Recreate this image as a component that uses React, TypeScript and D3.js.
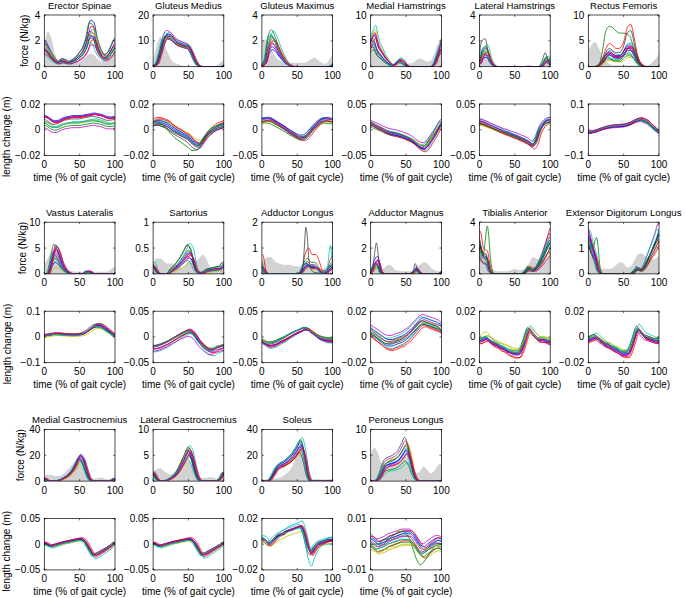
import React from "react";
import * as d3 from "d3";

const muscles = [
  "Erector Spinae", "Gluteus Medius", "Gluteus Maximus", "Medial Hamstrings", "Lateral Hamstrings", "Rectus Femoris",
  "Vastus Lateralis", "Sartorius", "Adductor Longus", "Adductor Magnus", "Tibialis Anterior", "Extensor Digitorum Longus",
  "Medial Gastrocnemius", "Lateral Gastrocnemius", "Soleus", "Peroneus Longus",
];
const groupSizes = [6, 6, 4];
const xPct = [0, 5, 10, 15, 20, 25, 30, 35, 40, 45, 50, 55, 60, 65, 70, 75, 80, 85, 90, 95, 100];
const xTicks = [0, 50, 100];
const forceMax = [4, 20, 4, 10, 4, 10, 10, 1, 2, 4, 4, 2, 40, 10, 40, 10];
const lengthRange = [0.02, 0.02, 0.05, 0.05, 0.05, 0.1, 0.1, 0.05, 0.05, 0.02, 0.02, 0.02, 0.05, 0.05, 0.02, 0.01];

// mean muscle force (N/kg) at xPct
const forceMean = [
  [1.5, 1.2, 0.8, 0.5, 0.3, 0.45, 0.4, 0.3, 0.4, 0.55, 0.8, 1.1, 1.7, 2.6, 2.5, 1.6, 1.0, 0.7, 0.8, 1.2, 1.6],
  [0.3, 1.0, 5, 10, 12, 11.5, 10, 9, 8.5, 8, 7.5, 5, 2, 0.3, 0, 0, 0, 0, 0, 0, 0.3],
  [0.1, 0.4, 1.8, 2.2, 1.8, 1.2, 0.7, 0.3, 0.1, 0, 0, 0, 0, 0, 0, 0, 0, 0, 0, 0, 0.1],
  [4.5, 5.5, 3.5, 2.5, 1.5, 0.8, 0.3, 0.5, 1.2, 1.0, 0.3, 0, 0, 0, 0, 0, 0, 0, 0.5, 2.5, 4.5],
  [0.3, 1.1, 1.2, 0.5, 0.1, 0, 0, 0, 0, 0, 0, 0, 0, 0, 0, 0, 0, 0, 0.2, 0.6, 0.2],
  [0, 0, 0, 0.3, 1, 2, 2.5, 2, 1.8, 1.8, 2.5, 3.5, 3.5, 2.5, 1, 0.3, 0, 0, 0, 0, 0],
  [0, 0, 2.5, 5, 4, 2, 0.8, 0.2, 0, 0, 0, 0, 0.5, 0.4, 0, 0, 0, 0, 0, 0, 0],
  [0.15, 0.05, 0, 0, 0, 0.05, 0.1, 0.15, 0.22, 0.3, 0.38, 0.32, 0.1, 0.02, 0.02, 0.05, 0.07, 0.08, 0.09, 0.1, 0.15],
  [0.3, 0.05, 0, 0, 0, 0, 0, 0, 0, 0, 0, 0.05, 0.3, 0.4, 0.3, 0.3, 0.2, 0.05, 0.05, 0.2, 0.3],
  [0.1, 0.6, 0.8, 0.1, 0, 0, 0, 0, 0, 0, 0, 0, 0.1, 0.3, 0.05, 0, 0, 0, 0, 0, 0.1],
  [2.2, 1.3, 1.2, 0.2, 0, 0, 0, 0, 0, 0, 0, 0, 0, 0.2, 0.4, 0.3, 0.4, 0.8, 1.3, 1.9, 2.4],
  [1.4, 1.0, 0.6, 0.1, 0, 0, 0, 0, 0, 0, 0, 0, 0, 0.1, 0.2, 0.15, 0.3, 0.6, 0.9, 1.2, 1.5],
  [2, 0.5, 0, 0, 0.5, 1.5, 3, 5, 8, 13, 18, 15, 7, 1, 0, 0, 0, 0, 0, 0.5, 2],
  [1.5, 0.5, 0, 0, 0.2, 0.5, 1, 1.8, 3, 4.3, 5.5, 4.5, 2, 0.3, 0, 0, 0, 0, 0, 0.5, 1.5],
  [0, 0, 0.5, 4, 9, 12, 13, 15, 17, 20, 24, 28, 20, 5, 0, 0, 0, 0, 0, 0, 0],
  [0, 0, 0.3, 1.5, 3, 3.5, 3.7, 4, 4.5, 5.5, 6.5, 5, 2, 0.3, 0, 0, 0, 0, 0, 0, 0],
];

// grey shaded EMG envelope (in force units of each panel)
const emgShade = [
  [1.5, 2.7, 2.2, 1.0, 0.4, 0.3, 0.3, 0.2, 0.2, 0.3, 0.4, 0.6, 0.8, 1.0, 0.9, 0.6, 0.4, 0.5, 0.9, 1.3, 1.2],
  [2, 8, 11.5, 9, 6, 3, 1.5, 1, 0.5, 0.3, 0.2, 0.2, 0.2, 0.2, 0.2, 0.2, 0.2, 0.3, 0.5, 1.5, 3],
  [2.0, 2.1, 1.8, 1.2, 0.7, 0.5, 0.4, 0.3, 0.3, 0.3, 0.3, 0.3, 0.3, 0.4, 0.6, 0.7, 0.5, 0.3, 0.2, 0.5, 1.0],
  [4.5, 4, 3, 2, 1.2, 0.8, 0.6, 0.5, 0.5, 0.5, 0.5, 0.6, 0.8, 1.3, 1.6, 1.3, 1.0, 1.2, 2.5, 4.5, 5.5],
  [1.3, 1.3, 0.8, 0.3, 0.1, 0.05, 0.05, 0.05, 0.05, 0.05, 0.05, 0.05, 0.05, 0.1, 0.15, 0.1, 0.05, 0.05, 0.1, 0.3, 0.4],
  [3, 4.3, 4.8, 3.5, 2, 1, 0.5, 0.3, 0.3, 0.3, 0.3, 0.3, 0.3, 0.3, 0.3, 0.3, 0.3, 0.3, 0.8, 1.5, 2.5],
  [2, 3, 4.5, 4.5, 3, 1.8, 1, 0.6, 0.5, 0.4, 0.4, 0.4, 0.4, 0.4, 0.4, 0.4, 0.4, 0.4, 0.5, 1, 1.5],
  [0.2, 0.3, 0.3, 0.25, 0.2, 0.2, 0.2, 0.15, 0.12, 0.15, 0.25, 0.28, 0.25, 0.3, 0.37, 0.3, 0.15, 0.08, 0.06, 0.05, 0.1],
  [0.5, 0.6, 0.65, 0.6, 0.45, 0.4, 0.35, 0.35, 0.35, 0.3, 0.3, 0.3, 0.4, 0.4, 0.3, 0.25, 0.2, 0.2, 0.25, 0.3, 0.35],
  [0.5, 0.6, 0.5, 0.4, 0.5, 0.7, 0.6, 0.3, 0.25, 0.2, 0.2, 0.2, 0.3, 0.6, 0.7, 0.9, 0.8, 0.5, 0.3, 0.2, 0.2],
  [2.5, 1.5, 0.8, 0.4, 0.3, 0.2, 0.2, 0.2, 0.2, 0.3, 0.4, 0.3, 0.3, 0.5, 0.8, 1.3, 1.2, 1.1, 1.0, 1.2, 1.5],
  [1.5, 1.0, 0.6, 0.3, 0.2, 0.2, 0.2, 0.25, 0.35, 0.45, 0.4, 0.25, 0.3, 0.5, 0.75, 0.8, 0.7, 0.6, 0.55, 0.6, 0.7],
  [4, 5, 5, 4, 4, 5, 7, 10, 13, 16, 17, 12, 6, 3, 2, 2, 3, 2, 1.5, 2, 3],
  [1.8, 2.3, 2.5, 2, 1.5, 1.3, 1.5, 2, 2.8, 3.8, 4, 3, 1.5, 0.8, 0.6, 0.6, 0.8, 0.7, 0.5, 0.5, 0.8],
  [1, 1.5, 1.5, 2, 2, 2.5, 4, 6, 9, 14, 22, 23, 12, 4, 2, 1.5, 1.5, 1.5, 1.2, 1.5, 2],
  [5, 6.5, 5.5, 3.5, 3, 3.3, 3.5, 3.7, 4, 5, 5.5, 5, 3, 1.5, 2, 2.8, 2.2, 1.5, 2, 3, 3.5],
];

// mean length change (m) at xPct
const lengthMean = [
  [0.008, 0.007, 0.005, 0.004, 0.0045, 0.006, 0.007, 0.0075, 0.008, 0.008, 0.008, 0.0085, 0.009, 0.0095, 0.010, 0.0095, 0.009, 0.008, 0.007, 0.007, 0.0075],
  [0.005, 0.006, 0.006, 0.005, 0.004, 0.002, 0.0, -0.0015, -0.003, -0.0045, -0.006, -0.009, -0.011, -0.012, -0.009, -0.005, -0.002, 0.0, 0.002, 0.003, 0.004],
  [0.018, 0.02, 0.02, 0.017, 0.013, 0.009, 0.005, 0.0, -0.005, -0.009, -0.013, -0.016, -0.015, -0.01, -0.002, 0.006, 0.013, 0.018, 0.02, 0.019, 0.018],
  [0.012, 0.008, 0.005, 0.002, -0.002, -0.005, -0.007, -0.008, -0.01, -0.012, -0.015, -0.018, -0.022, -0.028, -0.033, -0.035, -0.03, -0.02, -0.01, 0.002, 0.012],
  [0.015, 0.013, 0.010, 0.007, 0.004, 0.001, -0.002, -0.005, -0.007, -0.01, -0.012, -0.015, -0.018, -0.021, -0.025, -0.03, -0.022, -0.002, 0.01, 0.016, 0.018],
  [-0.01, -0.008, -0.005, 0.0, 0.005, 0.009, 0.012, 0.014, 0.015, 0.016, 0.017, 0.02, 0.025, 0.032, 0.038, 0.04, 0.035, 0.028, 0.015, 0.003, -0.008],
  [0.005, 0.008, 0.01, 0.012, 0.012, 0.011, 0.01, 0.009, 0.008, 0.009, 0.01, 0.013, 0.02, 0.03, 0.04, 0.045, 0.043, 0.035, 0.025, 0.015, 0.005],
  [-0.02, -0.019, -0.017, -0.014, -0.011, -0.007, -0.003, 0.001, 0.005, 0.008, 0.011, 0.009, 0.002, -0.008, -0.016, -0.022, -0.026, -0.026, -0.022, -0.02, -0.018],
  [-0.008, -0.012, -0.015, -0.014, -0.012, -0.008, -0.005, -0.001, 0.003, 0.007, 0.01, 0.013, 0.016, 0.015, 0.01, 0.005, 0.0, -0.003, -0.005, -0.006, -0.006],
  [0.004, 0.002, 0.0, -0.002, -0.004, -0.005, -0.005, -0.004, -0.003, -0.002, 0.0, 0.002, 0.005, 0.008, 0.011, 0.012, 0.011, 0.01, 0.009, 0.008, 0.006],
  [-0.003, -0.002, -0.001, -0.003, -0.005, -0.006, -0.008, -0.009, -0.011, -0.012, -0.013, -0.013, -0.009, -0.001, 0.006, 0.003, 0.0, -0.002, -0.002, -0.003, -0.004],
  [-0.002, -0.001, 0.0, -0.002, -0.004, -0.006, -0.007, -0.009, -0.01, -0.012, -0.013, -0.013, -0.009, -0.001, 0.006, 0.003, 0.0, -0.001, -0.002, -0.003, -0.003],
  [0.002, -0.001, -0.004, -0.002, 0.0, 0.002, 0.004, 0.005, 0.007, 0.008, 0.01, 0.008, 0.0, -0.012, -0.022, -0.02, -0.016, -0.012, -0.008, -0.003, 0.002],
  [0.002, -0.001, -0.004, -0.002, 0.0, 0.002, 0.004, 0.005, 0.007, 0.008, 0.01, 0.008, 0.0, -0.012, -0.021, -0.019, -0.015, -0.011, -0.007, -0.003, 0.002],
  [0.004, 0.003, 0.0, 0.002, 0.005, 0.007, 0.008, 0.01, 0.011, 0.012, 0.013, 0.014, 0.008, -0.002, -0.007, -0.003, 0.0, 0.001, 0.002, 0.003, 0.003],
  [0.001, 0.0, -0.001, -0.0005, 0.0, 0.001, 0.0015, 0.002, 0.0025, 0.003, 0.003, 0.003, 0.002, 0.0, -0.002, -0.003, -0.002, -0.001, 0.0, 0.0005, 0.0],
];

// per-subject force amplitude (relative to mean), read from peak spread
const forceScale = [
  [1.38, 1.3, 1.2, 1.1, 1.05, 1.0, 0.95, 0.9, 0.85, 0.8, 0.72, 0.65],
  [1.0, 0.95, 1.05, 1.1, 1.17, 0.9, 1.0, 1.05, 0.92, 0.98, 1.08, 0.88],
  [0.7, 1.3, 1.0, 1.25, 0.85, 0.9, 1.1, 0.6, 1.05, 0.95, 1.15, 0.8],
  [0.8, 1.0, 1.2, 1.45, 0.9, 1.3, 0.7, 1.1, 0.6, 1.0, 0.85, 1.15],
  [1.2, 0.9, 1.1, 1.4, 0.8, 1.0, 1.8, 0.6, 1.3, 0.9, 1.05, 0.75],
  [1.2, 0.7, 1.0, 1.3, 1.1, 0.5, 1.0, 0.9, 0.6, 1.1, 0.8, 1.05],
  [0.45, 1.15, 1.0, 1.1, 0.9, 0.25, 0.8, 0.95, 0.6, 1.05, 0.75, 1.12],
  [1.1, 1.5, 1.0, 1.55, 0.9, 0.55, 1.45, 0.8, 1.2, 0.95, 0.7, 1.05],
  [0.8, 1.0, 2.5, 0.7, 1.2, 0.6, 1.0, 0.9, 1.5, 0.8, 1.1, 0.7],
  [1.7, 0.9, 1.2, 0.7, 1.0, 0.6, 1.0, 1.3, 0.8, 1.1, 0.9, 1.4],
  [1.1, 1.0, 1.5, 0.9, 1.3, 0.8, 0.7, 1.0, 1.2, 0.9, 1.05, 0.6],
  [1.0, 0.9, 1.1, 1.2, 1.3, 0.7, 0.85, 1.05, 0.8, 0.95, 1.15, 0.75],
  [1.05, 1.0, 1.1, 1.17, 0.95, 0.82, 1.0, 1.1, 0.9, 1.05, 0.95, 1.12],
  [1.05, 0.95, 1.15, 1.25, 1.0, 0.85, 1.1, 0.9, 1.2, 1.0, 0.82, 1.08],
  [1.1, 0.95, 0.9, 1.2, 1.05, 0.85, 0.8, 1.0, 1.15, 0.92, 1.08, 0.95],
  [0.9, 0.6, 1.1, 0.55, 1.2, 1.15, 1.3, 0.95, 1.05, 0.85, 1.0, 0.8],
];

// per-subject length offsets (m)
const lengthOffset = [
  [0.002, -0.002, 0.001, -0.003, -0.006, -0.001, 0.0, 0.003, -0.004, 0.001, -0.002, 0.002],
  [0.0, -0.002, 0.003, 0.001, -0.001, 0.002, -0.003, 0.001, -0.001, 0.002, 0.0, -0.002],
  [-0.003, -0.005, 0.002, 0.0, 0.005, -0.002, 0.001, 0.003, -0.001, -0.004, 0.004, 0.0],
  [-0.002, -0.004, 0.002, 0.0, 0.008, -0.001, 0.003, -0.003, 0.001, -0.005, 0.004, 0.0],
  [-0.003, -0.002, 0.001, 0.004, 0.007, -0.004, 0.0, 0.002, -0.001, -0.005, 0.003, 0.001],
  [-0.004, 0.0, 0.003, -0.002, -0.006, 0.004, 0.001, -0.003, 0.002, -0.001, 0.0, 0.005],
  [0.0, -0.003, 0.002, 0.001, -0.002, -0.005, 0.003, 0.0, -0.001, 0.002, -0.002, 0.001],
  [0.002, -0.001, 0.003, -0.006, -0.009, 0.0, 0.001, -0.003, 0.002, -0.002, 0.0, 0.003],
  [-0.002, 0.003, -0.004, -0.005, 0.002, 0.0, 0.001, -0.002, 0.004, -0.001, 0.002, -0.003],
  [-0.002, 0.001, -0.004, -0.003, 0.006, 0.002, 0.0, 0.003, -0.001, -0.005, 0.004, 0.001],
  [0.0, 0.001, -0.002, 0.002, -0.001, 0.002, 0.001, -0.001, 0.0, -0.002, 0.001, 0.0],
  [0.0, 0.001, -0.001, 0.003, -0.002, 0.001, 0.002, -0.001, 0.0, -0.002, 0.001, 0.0],
  [0.0, 0.001, -0.001, -0.003, 0.002, -0.002, 0.001, 0.0, -0.001, 0.002, -0.002, 0.001],
  [0.0, 0.001, -0.001, -0.003, 0.002, -0.002, 0.001, 0.0, -0.001, 0.002, -0.002, 0.001],
  [0.0, 0.001, -0.001, 0.002, 0.001, -0.002, -0.001, 0.0, 0.001, -0.001, 0.002, 0.0],
  [0.002, -0.001, -0.002, 0.001, 0.003, -0.003, 0.0, 0.001, -0.002, 0.002, -0.001, 0.0],
];

// per-subject length amplitude and timing (% of gait cycle)
const subjectLengthScale = [1.0, 0.9, 1.1, 1.15, 0.95, 0.85, 1.05, 1.0, 0.92, 1.08, 0.97, 1.03];
const subjectShift = [0, -1.5, 1, 2, -1, 1.5, -2, 0.5, -0.5, 2.5, -2.5, 1];

// individual curves that stand apart from the group
const outliers = [
  { panel: 5, kind: "force", color: 1, x: [0, 10, 15, 20, 25, 30, 35, 40, 45, 50, 55, 60, 65, 70, 75, 80, 100], y: [0, 0, 0.3, 3, 7, 7.8, 7.5, 6.8, 6.5, 6.5, 6.3, 5.5, 3, 1, 0.3, 0, 0] },
  { panel: 5, kind: "force", color: 2, x: xPct, y: [0, 0, 0, 0.3, 1.5, 3.5, 4.5, 4, 3.5, 3.6, 4.8, 7.5, 8.2, 5.5, 2, 0.5, 0, 0, 0, 0, 0] },
  { panel: 5, kind: "force", color: 6, x: xPct, y: [0, 0, 0, 0.3, 1.2, 2.8, 3.5, 3, 2.7, 2.8, 4, 6.5, 7, 4.5, 1.5, 0.3, 0, 0, 0, 0, 0] },
  { panel: 8, kind: "force", color: 6, x: [0, 5, 50, 55, 58, 60, 62, 64, 66, 68, 70, 75, 100], y: [0.2, 0, 0, 0.05, 0.3, 1.0, 1.8, 1.5, 0.7, 0.3, 0.15, 0.05, 0] },
  { panel: 8, kind: "force", color: 3, x: [0, 5, 85, 90, 93, 95, 97, 99, 100], y: [0.3, 0, 0, 0.1, 0.3, 0.8, 1.1, 0.6, 0.3] },
  { panel: 9, kind: "force", color: 6, x: [0, 3, 6, 8, 10, 12, 15, 20, 55, 60, 63, 66, 70, 100], y: [0.1, 0.5, 1.8, 2.4, 1.8, 0.6, 0.1, 0, 0, 0.2, 0.8, 0.3, 0, 0] },
  { panel: 10, kind: "force", color: 1, x: [0, 5, 8, 10, 11, 13, 15, 18, 20, 60, 65, 68, 70, 72, 75, 80, 85, 90, 95, 100], y: [2.0, 1.5, 2.5, 3.5, 3.7, 3.0, 1.5, 0.3, 0, 0, 0.1, 0.6, 0.3, 0.5, 0.2, 0.4, 0.8, 1.3, 1.9, 2.4] },
  { panel: 11, kind: "force", color: 1, x: [0, 5, 8, 10, 12, 14, 16, 18, 20, 65, 68, 70, 75, 80, 85, 90, 95, 100], y: [1.3, 1.0, 1.1, 1.35, 1.4, 1.0, 0.4, 0.1, 0, 0, 0.3, 0.15, 0.1, 0.3, 0.6, 0.9, 1.2, 1.5] },
  { panel: 1, kind: "length", color: 1, x: xPct, y: [0.006, 0.006, 0.005, 0.003, 0.0, -0.003, -0.006, -0.008, -0.01, -0.012, -0.014, -0.016, -0.016, -0.014, -0.008, -0.003, 0.0, 0.002, 0.003, 0.004, 0.005] },
  { panel: 10, kind: "length", color: 5, x: xPct, y: [0.0, 0.003, 0.004, 0.001, -0.002, -0.004, -0.005, -0.006, -0.007, -0.009, -0.010, -0.010, -0.006, 0.0, 0.005, 0.003, 0.0, -0.001, -0.001, -0.001, -0.0015] },
  { panel: 14, kind: "length", color: 3, x: xPct, y: [0.004, 0.003, 0.0, 0.002, 0.004, 0.006, 0.008, 0.009, 0.01, 0.011, 0.012, 0.012, 0.004, -0.01, -0.017, -0.01, -0.004, -0.001, 0.0, 0.0, 0.0] },
  { panel: 15, kind: "length", color: 1, x: xPct, y: [0.0, 0.0, 0.0, 0.001, 0.002, 0.002, 0.003, 0.004, 0.005, 0.005, 0.004, 0.002, -0.002, -0.006, -0.008, -0.007, -0.005, -0.003, -0.001, 0.0, 0.0] },
  { panel: 15, kind: "length", color: 5, x: xPct, y: [-0.001, -0.002, -0.003, -0.003, -0.002, -0.002, -0.001, -0.001, -0.0005, 0.0, 0.0, 0.0, 0.0, 0.0, -0.001, -0.002, -0.002, -0.002, -0.001, -0.0005, -0.001] },
];

const COLORS = ["#0000ff", "#008000", "#ff0000", "#00bfbf", "#bf00bf", "#bfbf00", "#404040"];
const FONT = "'Liberation Sans', Arial, Helvetica, sans-serif";

const fmt = (v: number) => (v === 0 ? "0" : (v < 0 ? "\u2212" : "") + String(+Math.abs(v).toFixed(3)));

export default function App() {
  const colLeft = (c: number) => 44.3 + c * 108.8;
  const pw = 70.7;
  const groupTop = (g: number) => 15 + g * 207.2;
  const fh = 51.7;
  const lh = 51.5;
  const lOff = 89;
  const forceLabelX = [24.5, 22.5, 20.5];
  const lengthLabelX = [7.3, 8.3, 7.3];

  const elems: React.ReactNode[] = [];
  const defs: React.ReactNode[] = [];
  let idx = 0;

  groupSizes.forEach((n, g) => {
    for (let c = 0; c < n; c++, idx++) {
      const i = idx;
      const left = colLeft(c);
      ["force", "length"].forEach((kind) => {
        const top = kind === "force" ? groupTop(g) : groupTop(g) + lOff;
        const h = kind === "force" ? fh : lh;
        const xs = d3.scaleLinear().domain([0, 100]).range([left, left + pw]);
        const domain = kind === "force" ? [0, forceMax[i]] : [-lengthRange[i], lengthRange[i]];
        const ys = d3.scaleLinear().domain(domain).range([top + h, top]);
        const yTicks = kind === "force" ? [0, forceMax[i] / 2, forceMax[i]] : [-lengthRange[i], 0, lengthRange[i]];
        const clipId = `clip-${kind}-${i}`;
        defs.push(
          <clipPath id={clipId} key={clipId}>
            <rect x={left} y={top} width={pw} height={h} />
          </clipPath>
        );
        const line = d3
          .line<[number, number]>()
          .x((d) => xs(d[0]))
          .y((d) => ys(d[1]))
          .curve(d3.curveMonotoneX);
        const g2: React.ReactNode[] = [];
        if (kind === "force") {
          const area = d3
            .area<[number, number]>()
            .x((d) => xs(d[0]))
            .y0(ys(0))
            .y1((d) => ys(Math.min(d[1], forceMax[i])))
            .curve(d3.curveMonotoneX);
          const pts = xPct.map((x, k) => [x, emgShade[i][k]] as [number, number]);
          g2.push(<path key="emg" d={area(pts) || ""} fill="#d2d2d2" stroke="none" />);
        }
        const mean = kind === "force" ? forceMean[i] : lengthMean[i];
        for (let s = 0; s < 12; s++) {
          const vals = mean.map((v) =>
            kind === "force" ? Math.max(0, v * forceScale[i][s]) : v * subjectLengthScale[s] + lengthOffset[i][s]
          );
          const sh = subjectShift[s];
          const pts: [number, number][] = [[-5 + sh, vals[19]]];
          xPct.forEach((x, k) => pts.push([x + sh, vals[k]]));
          pts.push([105 + sh, vals[1]]);
          g2.push(
            <path key={`s${s}`} d={line(pts) || ""} fill="none" stroke={COLORS[s % 7]} strokeWidth={0.8} />
          );
        }
        outliers
          .filter((o) => o.panel === i && o.kind === kind)
          .forEach((o, k) => {
            const pts = o.x.map((x, j) => [x, o.y[j]] as [number, number]);
            g2.push(
              <path key={`o${k}`} d={line(pts) || ""} fill="none" stroke={COLORS[o.color]} strokeWidth={0.8} />
            );
          });
        elems.push(
          <g key={`${kind}-${i}`}>
            <g clipPath={`url(#${clipId})`}>{g2}</g>
            <rect x={left} y={top} width={pw} height={h} fill="none" stroke="#000" strokeWidth={0.7} />
            {xTicks.map((t) => (
              <g key={`xt${t}`}>
                <line x1={xs(t)} x2={xs(t)} y1={top + h} y2={top + h - 2} stroke="#000" strokeWidth={0.6} />
                <line x1={xs(t)} x2={xs(t)} y1={top} y2={top + 2} stroke="#000" strokeWidth={0.6} />
                <text x={xs(t)} y={top + h + 12.5} textAnchor="middle" fontSize={10} fontFamily={FONT}>
                  {t}
                </text>
              </g>
            ))}
            {yTicks.map((t, k) => (
              <g key={`yt${k}`}>
                <line x1={left} x2={left + 2} y1={ys(t)} y2={ys(t)} stroke="#000" strokeWidth={0.6} />
                <line x1={left + pw} x2={left + pw - 2} y1={ys(t)} y2={ys(t)} stroke="#000" strokeWidth={0.6} />
                <text x={left - 4} y={ys(t) + 3.5} textAnchor="end" fontSize={10} fontFamily={FONT}>
                  {fmt(t)}
                </text>
              </g>
            ))}
            {kind === "force" ? (
              <text x={left + pw / 2} y={top - 6.5} textAnchor="middle" fontSize={9.6} fontFamily={FONT}>
                {muscles[i]}
              </text>
            ) : (
              <text x={left + pw / 2} y={top + h + 25} textAnchor="middle" fontSize={10} fontFamily={FONT}>
                time (% of gait cycle)
              </text>
            )}
            {c === 0 && kind === "force" && (
              <text
                transform={`translate(${forceLabelX[g] + 3}, ${top + h / 2}) rotate(-90)`}
                textAnchor="middle"
                fontSize={10}
                fontFamily={FONT}
              >
                force (N/kg)
              </text>
            )}
            {c === 0 && kind === "length" && (
              <text
                transform={`translate(${lengthLabelX[g] + 3}, ${top + h / 2 + 7}) rotate(-90)`}
                textAnchor="middle"
                fontSize={10}
                fontFamily={FONT}
              >
                length change (m)
              </text>
            )}
          </g>
        );
      });
    }
  });

  return (
    <svg
      width={685}
      height={598}
      style={{ position: "absolute", left: 0, top: 0, background: "#fff" }}
      xmlns="http://www.w3.org/2000/svg"
    >
      <defs>{defs}</defs>
      <rect x={0} y={0} width={685} height={598} fill="#fff" />
      {elems}
    </svg>
  );
}
